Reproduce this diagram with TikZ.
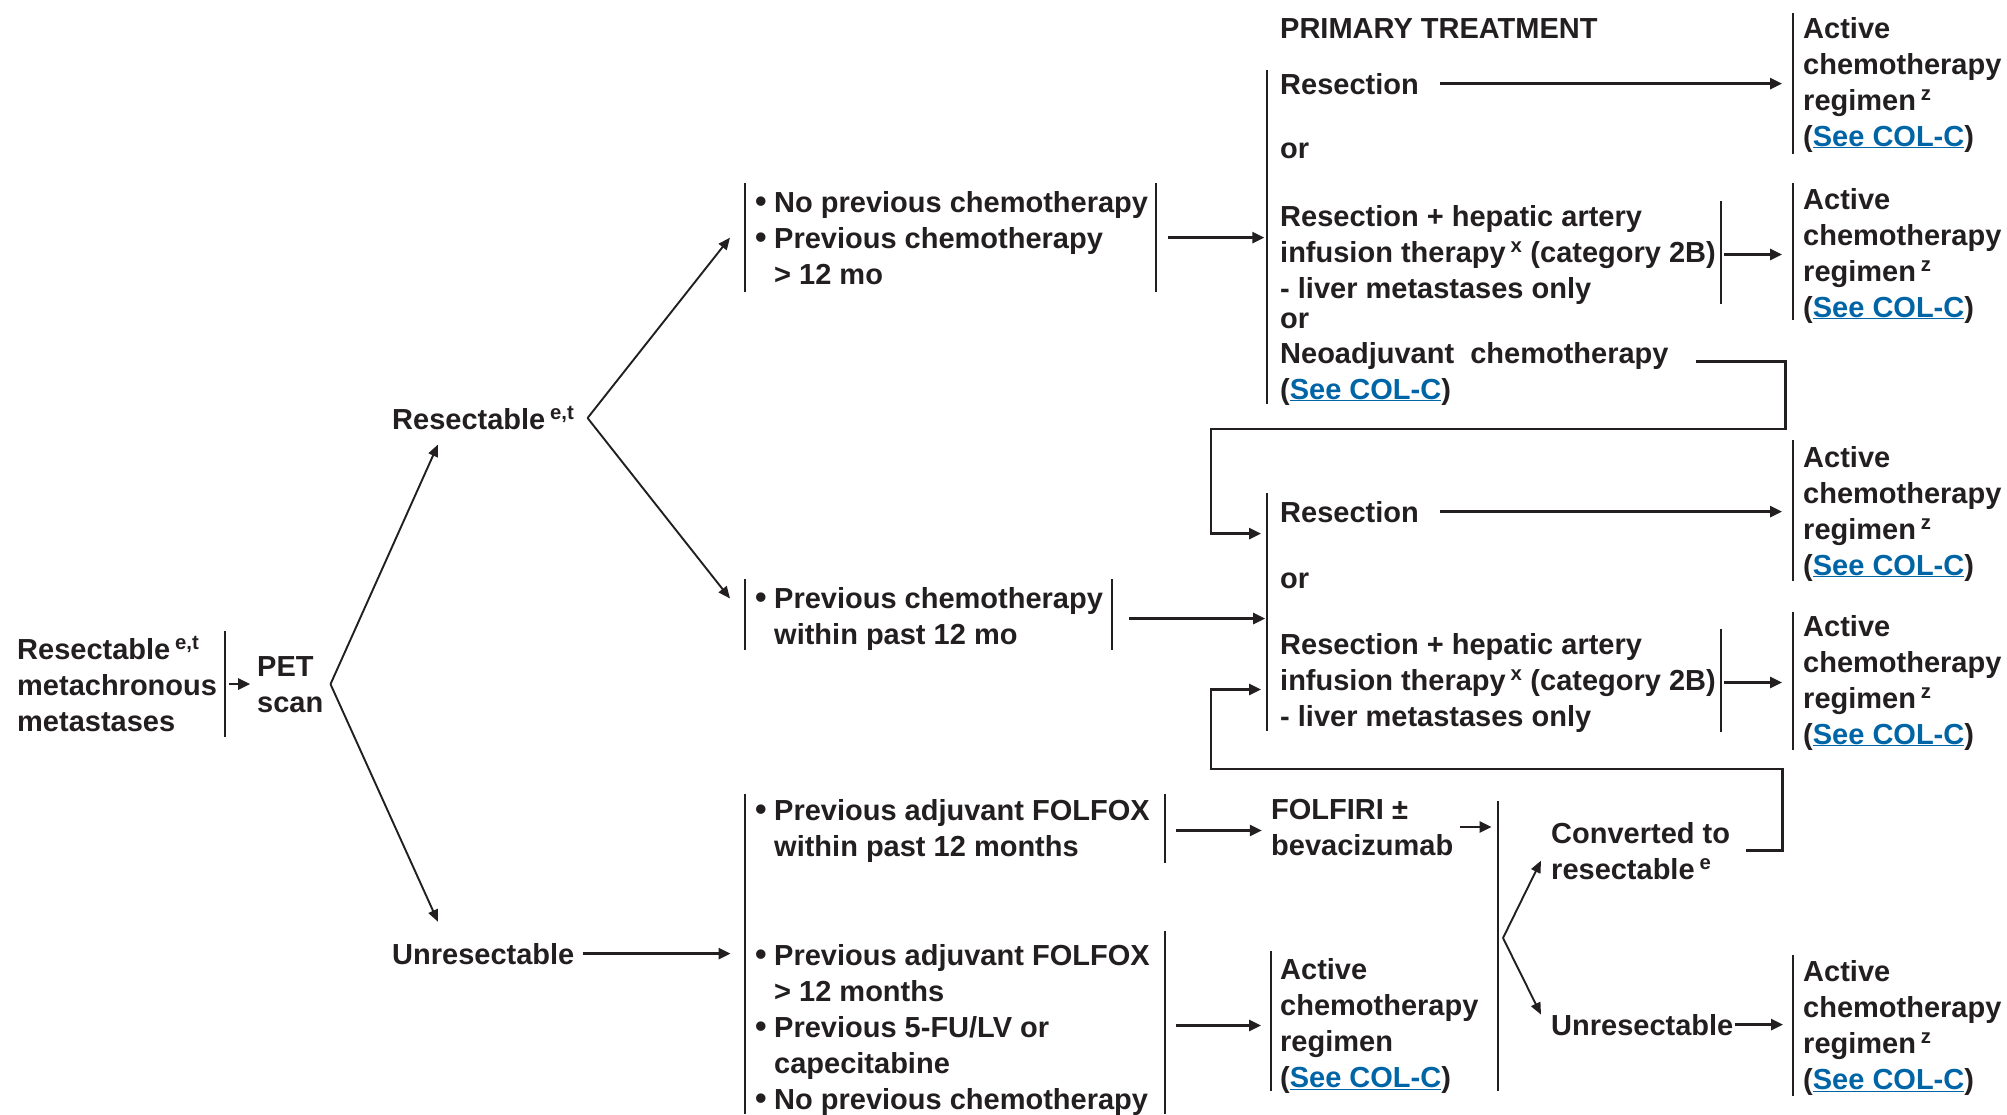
\documentclass[tikz,border=0pt]{standalone}
\usepackage{fontspec}
\setmainfont{Liberation Sans}
\usetikzlibrary{arrows.meta}
\definecolor{ink}{RGB}{35,31,32}
\definecolor{linkblue}{RGB}{0,101,166}
\newcommand{\sups}[1]{\,\textsuperscript{#1}}
\newcommand{\seecol}{(\textcolor{linkblue}{\underline{See COL-C}})}
\newcommand{\bul}{\makebox[19pt][l]{\fontsize{33}{36}\selectfont•}}
\newcommand{\ind}{\hspace*{19pt}}

\begin{document}
\begin{tikzpicture}[x=1pt,y=-1pt,
    txt/.style={anchor=base west,align=left,inner sep=0pt,text=ink,font=\fontsize{29}{36}\selectfont\bfseries},
    bar/.style={draw=ink,line width=2pt},
    arr/.style={draw=ink,line width=2.6pt,-{Triangle[length=12pt,width=11pt]}},
    farr/.style={draw=ink,line width=1.9pt,-{Triangle[length=12pt,width=10pt]}}]
    \useasboundingbox (0,0) rectangle (2007,1114);

    % left side (base = last line)
    \node[txt] (start) at (17,731) {Resectable\sups{e,t}\\metachronous\\metastases};
    \node[txt] (pet) at (257,712) {PET\\scan};
    \node[txt] (resect) at (392,429) {Resectable\sups{e,t}};
    \node[txt] (unres) at (392,964) {Unresectable};

    % patient groups
    \node[txt] (noprev) at (755,284) {\bul No previous chemotherapy\\\bul Previous chemotherapy\\\ind> 12 mo};
    \node[txt] (within) at (755,644) {\bul Previous chemotherapy\\\ind within past 12 mo};
    \node[txt] (folfoxa) at (755,856) {\bul Previous adjuvant FOLFOX\\\ind within past 12 months};
    \node[txt] (folfoxb) at (755,1109) {\bul Previous adjuvant FOLFOX\\\ind> 12 months\\\bul Previous 5-FU/LV or\\\ind capecitabine\\\bul No previous chemotherapy};

    % primary treatment
    \node[txt] (primary) at (1280,38) {PRIMARY TREATMENT};
    \node[txt] (resA) at (1280,94) {Resection};
    \node[txt] (orA) at (1280,158) {or};
    \node[txt] (hepA) at (1280,298) {Resection + hepatic artery\\infusion therapy\sups{x} (category 2B)\\- liver metastases only};
    \node[txt] (orB) at (1280,328) {or};
    \node[txt] (neo) at (1280,399) {Neoadjuvant\ \ chemotherapy\\\seecol};
    \node[txt] (resB) at (1280,522) {Resection};
    \node[txt] (orC) at (1280,588) {or};
    \node[txt] (hepB) at (1280,726) {Resection + hepatic artery\\infusion therapy\sups{x} (category 2B)\\- liver metastases only};
    \node[txt] (folfiri) at (1271,855) {FOLFIRI ±\\bevacizumab};
    \node[txt] (actD) at (1280,1087) {Active\\chemotherapy\\regimen\\\seecol};
    \node[txt] (conv) at (1551,879) {Converted to\\resectable\sups{e}};
    \node[txt] (unresB) at (1551,1035) {Unresectable};

    % adjuvant
    \node[txt] (actR1) at (1803,146) {Active\\chemotherapy\\regimen\sups{z}\\\seecol};
    \node[txt] (actR2) at (1803,317) {Active\\chemotherapy\\regimen\sups{z}\\\seecol};
    \node[txt] (actR3) at (1803,575) {Active\\chemotherapy\\regimen\sups{z}\\\seecol};
    \node[txt] (actR4) at (1803,744) {Active\\chemotherapy\\regimen\sups{z}\\\seecol};
    \node[txt] (actR5) at (1803,1089) {Active\\chemotherapy\\regimen\sups{z}\\\seecol};

    % bars
    \draw[bar] (225,631) -- (225,737);
    \draw[bar] (745,183) -- (745,292);
    \draw[bar] (1156,183) -- (1156,292);
    \draw[bar] (745,579) -- (745,650);
    \draw[bar] (1112,579) -- (1112,650);
    \draw[bar] (745,794) -- (745,1114);
    \draw[bar] (1165,794) -- (1165,863);
    \draw[bar] (1165,931) -- (1165,1114);
    \draw[bar] (1267,70) -- (1267,404);
    \draw[bar] (1267,493) -- (1267,731);
    \draw[bar] ([xshift=5pt,yshift=4pt]hepA.north east) -- ([xshift=5pt]hepA.south east);
    \draw[bar] ([xshift=5pt,yshift=4pt]hepB.north east) -- ([xshift=5pt]hepB.south east);
    \draw[bar] (1271,951) -- (1271,1091);
    \draw[bar] (1498,801) -- (1498,1091);
    \draw[bar] (1793,13) -- (1793,154);
    \draw[bar] (1793,183) -- (1793,320);
    \draw[bar] (1793,440) -- (1793,581);
    \draw[bar] (1793,612) -- (1793,750);
    \draw[bar] (1793,955) -- (1793,1096);

    % forks
    \coordinate (f1) at ([xshift=7pt]pet.east);
    \coordinate (f2) at ([xshift=13pt]resect.east);
    \coordinate (f3) at (1503,938);
    \draw[farr] (f1) -- ([xshift=46pt,yshift=-15pt]resect.south west);
    \draw[farr] (f1) -- ([xshift=46pt,yshift=21pt]unres.north west);
    \draw[farr] (f2) -- ([xshift=-25pt]noprev.west);
    \draw[farr] (f2) -- ([xshift=-25pt,yshift=20pt]within.west);
    \draw[farr] (f3) -- ([xshift=-10pt,yshift=-10pt]conv.west);
    \draw[farr] (f3) -- ([xshift=-10pt,yshift=10pt]unresB.west);

    % arrows
    \draw[arr] ([xshift=12pt]start.east) -- ++(21,0);
    \draw[arr] ([xshift=8pt]unres.east) -- ++(148,0);
    \draw[arr] ([xshift=20pt]noprev.east) -- ++(96,0);
    \draw[arr] ([xshift=26pt]within.east) -- ++(136,0);
    \draw[arr] ([xshift=26pt]folfoxa.east) -- ++(86,0);
    \draw[arr] ([xshift=6pt]folfiri.east) -- ++(32,0);
    \draw[arr] ([xshift=26pt]folfoxb.east |- actD.west) -- ([xshift=-19pt]actD.west);
    \draw[arr] ([xshift=21pt]resA.east) -- ([xshift=-21pt]resA.east -| actR1.west);
    \draw[arr] ([xshift=8pt]hepA.east) -- ([xshift=-21pt]hepA.east -| actR2.west);
    \draw[arr] ([xshift=21pt]resB.east) -- ([xshift=-21pt]resB.east -| actR3.west);
    \draw[arr] ([xshift=8pt]hepB.east) -- ([xshift=-21pt]hepB.east -| actR4.west);
    \draw[arr] ([xshift=1pt]unresB.east) -- ([xshift=-20pt]unresB.east -| actR5.west);

    % loops back
    \draw[arr] ([xshift=27pt,yshift=-20pt]neo.north east) -- ++(90,0) |- (1211,429) |- ([xshift=-19pt,yshift=-22pt]resB.west);
    \draw[arr] ([xshift=16pt]conv.east) -- ++(36,0) |- (1211,769) |- ([xshift=-19pt,yshift=-7pt]hepB.west);
\end{tikzpicture}
\end{document}
